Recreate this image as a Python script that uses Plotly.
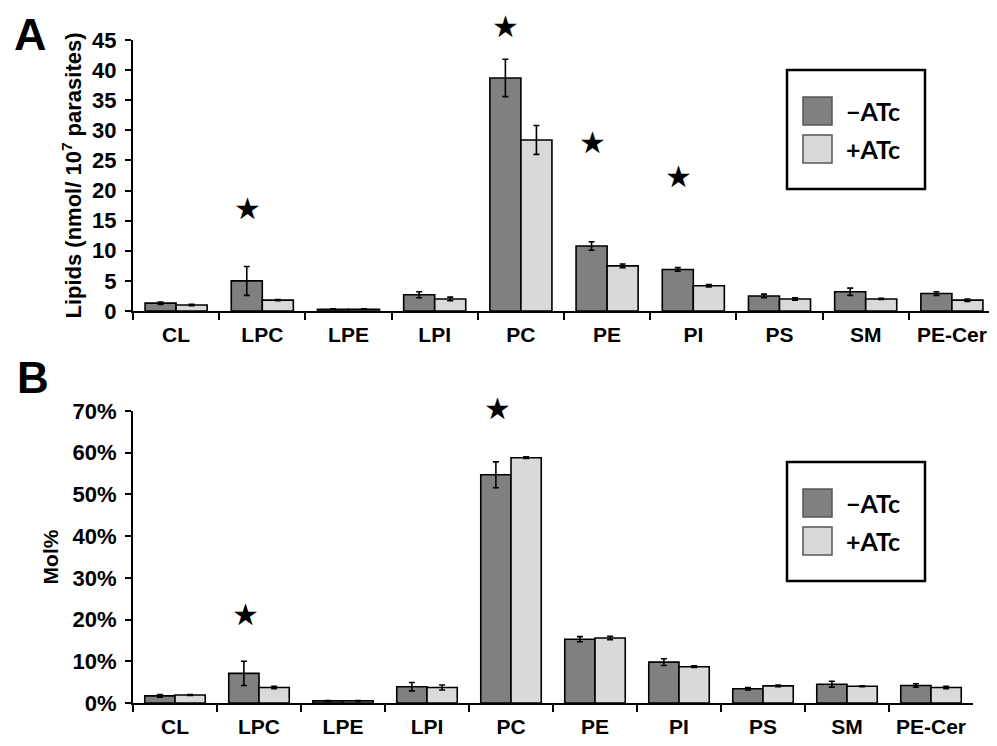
import plotly.graph_objects as go

# ---------------- data ----------------
categories = ["CL", "LPC", "LPE", "LPI", "PC", "PE", "PI", "PS", "SM", "PE-Cer"]

a_minus = [1.3, 5.0, 0.3, 2.7, 38.7, 10.8, 6.9, 2.5, 3.2, 2.9]
a_minus_err = [0.2, 2.4, 0.05, 0.5, 3.1, 0.7, 0.3, 0.3, 0.6, 0.3]
a_plus = [1.0, 1.8, 0.3, 2.0, 28.4, 7.5, 4.2, 2.0, 2.0, 1.8]
a_plus_err = [0.1, 0.1, 0.05, 0.3, 2.4, 0.3, 0.2, 0.2, 0.1, 0.2]

b_minus = [0.017, 0.071, 0.005, 0.039, 0.547, 0.153, 0.098, 0.034, 0.045, 0.042]
b_minus_err = [0.003, 0.029, 0.001, 0.010, 0.031, 0.006, 0.008, 0.003, 0.007, 0.004]
b_plus = [0.019, 0.037, 0.005, 0.037, 0.588, 0.156, 0.087, 0.041, 0.040, 0.037]
b_plus_err = [0.001, 0.003, 0.001, 0.006, 0.002, 0.004, 0.002, 0.002, 0.001, 0.003]

a_star_cats = ["LPC", "PC", "PE", "PI"]
a_star_vals = [17.1, 47.2, 27.9, 22.4]
b_star_cats = ["LPC", "PC"]
b_star_vals = [0.211, 0.707]

a_yticks = [0, 5, 10, 15, 20, 25, 30, 35, 40, 45]
b_yticks = [0, 0.1, 0.2, 0.3, 0.4, 0.5, 0.6, 0.7]
a_ymax = 45
b_ymax = 0.7

series_names = ["\u2212ATc", "+ATc"]
dark = "#808080"
light = "#d9d9d9"

# ---------------- figure ----------------
# the page has an 8px body margin, so the figure is 8px smaller and
# all positions below are given in page pixels
PAGE_W, PAGE_H = 997, 746
OFF = 8
W, H = PAGE_W - OFF, PAGE_H - OFF
FONT = "Liberation Sans, Arial, sans-serif"


def px_x(p):
    return (p - OFF) / W


def px_y(p):
    return 1 - (p - OFF) / H


fig = go.Figure()

def add_bars(vals, errs, color, name, xa, ya):
    fig.add_trace(go.Bar(
        x=categories, y=vals, name=name, xaxis=xa, yaxis=ya,
        marker=dict(color=color, line=dict(color="black", width=1.6)),
        error_y=dict(type="data", array=errs, visible=True, color="black",
                     thickness=1.6, width=3),
        showlegend=False,
    ))

add_bars(a_minus, a_minus_err, dark, series_names[0], "x", "y")
add_bars(a_plus, a_plus_err, light, series_names[1], "x", "y")
add_bars(b_minus, b_minus_err, dark, series_names[0], "x2", "y2")
add_bars(b_plus, b_plus_err, light, series_names[1], "x2", "y2")

tick_font = dict(family=FONT, size=22, color="black", weight="bold")
cat_font = dict(family=FONT, size=21, color="black", weight="bold")

common_x = dict(
    type="category", categoryorder="array", categoryarray=categories,
    showline=True, linecolor="black", linewidth=2,
    ticks="outside", ticklen=7, tickwidth=2, tickcolor="black",
    tickson="boundaries", showgrid=False, zeroline=False,
    tickfont=cat_font, ticklabelstandoff=4, automargin=False,
)
common_y = dict(
    showline=True, linecolor="black", linewidth=2,
    ticks="outside", ticklen=6, tickwidth=2, tickcolor="black",
    showgrid=False, zeroline=False, tickfont=tick_font, automargin=False,
    ticklabelstandoff=4,
)

fig.update_layout(
    width=W, height=H,
    margin=dict(l=0, r=0, t=0, b=0),
    paper_bgcolor="white", plot_bgcolor="white",
    barmode="group", bargap=0.28, bargroupgap=0,
    font=dict(family=FONT, color="black"),
    xaxis=dict(domain=[px_x(133), px_x(995)], anchor="y", **common_x),
    yaxis=dict(domain=[px_y(311), px_y(40)], anchor="x", range=[0, a_ymax],
               tickvals=a_yticks,
               title=dict(text="Lipids (nmol/ 10<sup>7</sup> parasites)",
                          font=dict(family=FONT, size=22, color="black", weight="bold"),
                          standoff=4),
               **common_y),
    xaxis2=dict(domain=[px_x(133), px_x(973)], anchor="y2", **common_x),
    yaxis2=dict(domain=[px_y(703), px_y(411)], anchor="x2", range=[0, b_ymax],
                tickvals=b_yticks, tickformat=".0%",
                title=dict(text="Mol%",
                           font=dict(family=FONT, size=21, color="black", weight="bold"),
                           standoff=8),
                **common_y),
)

# ---------------- significance stars ----------------
STAR_FONT = dict(size=30, color="black", family="DejaVu Sans")
for c, v in zip(a_star_cats, a_star_vals):
    fig.add_annotation(x=c, y=v / a_ymax, xref="x", yref="y domain", text="\u2605",
                       showarrow=False, xshift=-15, xanchor="center", yanchor="middle",
                       font=STAR_FONT)
for c, v in zip(b_star_cats, b_star_vals):
    fig.add_annotation(x=c, y=v / b_ymax, xref="x2", yref="y2 domain", text="\u2605",
                       showarrow=False, xshift=-14, xanchor="center", yanchor="middle",
                       font=STAR_FONT)

# ---------------- panel letters ----------------
fig.add_annotation(x=px_x(13), y=1, xref="paper", yref="paper", xanchor="left",
                   yanchor="top", text="A", showarrow=False, borderpad=0,
                   font=dict(family=FONT, size=45, color="black", weight="bold"))
fig.add_annotation(x=px_x(15), y=px_y(377), xref="paper", yref="paper", xanchor="left",
                   yanchor="middle", text="B", showarrow=False,
                   font=dict(family=FONT, size=44, color="black", weight="bold"))

# ---------------- legends (boxes) ----------------
LEG_FONT = dict(family="Lato, Open Sans, sans-serif", size=25, color="black", weight="bold")

def draw_legend(box_top):
    fig.add_shape(type="rect", xref="paper", yref="paper",
                  x0=px_x(787), x1=px_x(925), y0=px_y(box_top + 119), y1=px_y(box_top),
                  line=dict(color="black", width=2.5), fillcolor="white", layer="above")
    for i, (nm, col) in enumerate(zip(series_names, [dark, light])):
        top = box_top + 27 + i * 38
        fig.add_shape(type="rect", xref="paper", yref="paper",
                      x0=px_x(803), x1=px_x(832), y0=px_y(top + 28), y1=px_y(top),
                      line=dict(color="#555555", width=1.5), fillcolor=col, layer="above")
        fig.add_annotation(x=px_x(844), y=px_y(top + 14), xref="paper", yref="paper",
                           xanchor="left", yanchor="middle", text=nm, showarrow=False,
                           font=LEG_FONT)

draw_legend(70)
draw_legend(462)

fig.write_html("out.html")
